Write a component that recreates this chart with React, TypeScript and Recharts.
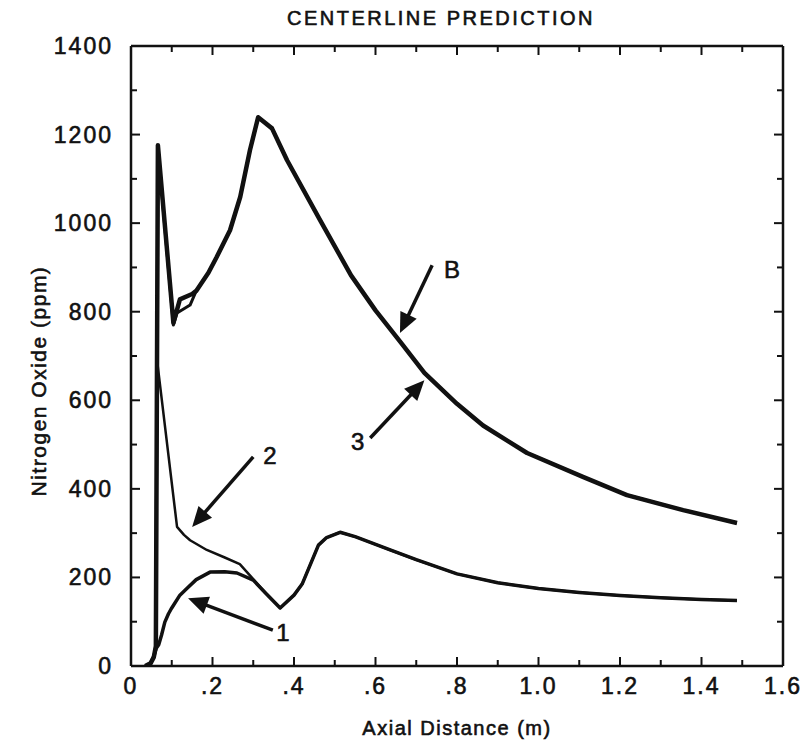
import { LineChart, Line, XAxis, YAxis, ReferenceLine, ReferenceDot } from "recharts";

// curve B (upper, thick)
const distB = [0.035, 0.048, 0.056, 0.061, 0.066, 0.104, 0.12, 0.15, 0.16, 0.19, 0.21, 0.243, 0.268, 0.292, 0.312, 0.346, 0.383, 0.464, 0.54, 0.6, 0.66, 0.72, 0.8, 0.864, 0.972, 1.109, 1.217, 1.355, 1.487];
const noxB = [0, 6, 20, 45, 1176, 775, 828, 840, 847, 888, 923, 984, 1059, 1165, 1239, 1214, 1142, 1007, 882, 803, 733, 662, 592, 543, 481, 427, 386, 352, 323];

// curve 3 (splits from B only near 0.1-0.16)
const dist3 = [0.035, 0.048, 0.056, 0.061, 0.066, 0.104, 0.113, 0.145, 0.16, 0.19, 0.21, 0.243, 0.268, 0.292, 0.312, 0.346, 0.383, 0.464, 0.54, 0.6, 0.66, 0.72, 0.8, 0.864, 0.972, 1.109, 1.217, 1.355, 1.487];
const nox3 = [0, 6, 20, 45, 1170, 770, 797, 815, 847, 888, 923, 984, 1059, 1165, 1239, 1214, 1142, 1007, 882, 803, 733, 662, 592, 543, 481, 427, 386, 352, 323];

// curve 2
const dist2 = [0.035, 0.048, 0.056, 0.061, 0.062, 0.064, 0.113, 0.13, 0.145, 0.186, 0.23, 0.267, 0.3, 0.33, 0.366, 0.4, 0.42, 0.46, 0.48, 0.513, 0.55, 0.636, 0.7, 0.8, 0.9, 1.0, 1.1, 1.2, 1.3, 1.4, 1.487];
const nox2 = [0, 6, 20, 45, 400, 690, 314, 296, 284, 262, 245, 230, 196, 165, 131, 160, 185, 273, 290, 302, 292, 262, 240, 208, 188, 175, 166, 159, 154, 150, 148];

// curve 1
const dist1 = [0.035, 0.048, 0.056, 0.062, 0.068, 0.075, 0.083, 0.092, 0.1, 0.12, 0.137, 0.16, 0.194, 0.23, 0.26, 0.3, 0.33, 0.366, 0.4, 0.42, 0.46, 0.48, 0.513, 0.55, 0.636, 0.7, 0.8, 0.9, 1.0, 1.1, 1.2, 1.3, 1.4, 1.487];
const nox1 = [0, 6, 22, 40, 48, 70, 99, 118, 131, 160, 175, 195, 212, 213, 210, 194, 165, 131, 160, 185, 273, 290, 302, 292, 262, 240, 208, 188, 175, 166, 159, 154, 150, 148];

const xMajorTicks = [0, 0.2, 0.4, 0.6, 0.8, 1.0, 1.2, 1.4, 1.6];
const xTickLabels = ["0", ".2", ".4", ".6", ".8", "1.0", "1.2", "1.4", "1.6"];
const xMinorTicks = [0.1, 0.3, 0.5, 0.7, 0.9, 1.1, 1.3, 1.5];
const yMajorTicks = [0, 200, 400, 600, 800, 1000, 1200, 1400];
const yTickLabels = ["0", "200", "400", "600", "800", "1000", "1200", "1400"];
const yMinorTicks = [100, 300, 500, 700, 900, 1100, 1300];

// annotation arrows: label, tail -> head, label position
const annoLabels = ["B", "3", "2", "1"];
const annoTailX = [0.739, 0.587, 0.3, 0.348];
const annoTailY = [905, 515, 472, 81];
const annoHeadX = [0.66, 0.72, 0.15, 0.14];
const annoHeadY = [752, 645, 314, 153];
const annoLabelX = [0.788, 0.556, 0.341, 0.373];
const annoLabelY = [896, 508, 476, 76];

const toPoints = (xs: number[], ys: number[]) => xs.map((x, i) => ({ x, y: ys[i] }));

const xTicksAll = [...xMajorTicks, ...xMinorTicks].sort((a, b) => a - b);
const yTicksAll = [...yMajorTicks, ...yMinorTicks].sort((a, b) => a - b);

const FONT = "'Liberation Sans', Arial, Helvetica, sans-serif";
const INK = "#111";

const majorIndex = (list: number[], v: number) => list.findIndex((t) => Math.abs(t - v) < 1e-6);

const textStyle = { fontFamily: FONT, fill: INK, stroke: INK, strokeWidth: 0.6 };

const BottomTick = (props: any) => {
  const { x, y, payload } = props;
  const i = majorIndex(xMajorTicks, payload.value);
  return (
    <g>
      <line x1={x} x2={x} y1={y} y2={y - (i >= 0 ? 9 : 6)} stroke={INK} strokeWidth={2} />
      {i >= 0 && (
        <text x={x} y={y + 28} textAnchor="middle" fontSize={23} letterSpacing={2} {...textStyle}>
          {xTickLabels[i]}
        </text>
      )}
    </g>
  );
};

const TopTick = (props: any) => {
  const { x, y, payload } = props;
  const major = majorIndex(xMajorTicks, payload.value) >= 0;
  return <line x1={x} x2={x} y1={y} y2={y + (major ? 9 : 6)} stroke={INK} strokeWidth={2} />;
};

const LeftTick = (props: any) => {
  const { x, y, payload } = props;
  const i = majorIndex(yMajorTicks, payload.value);
  return (
    <g>
      <line x1={x} x2={x + (i >= 0 ? 9 : 6)} y1={y} y2={y} stroke={INK} strokeWidth={2} />
      {i >= 0 && (
        <text x={x - 18} y={y + 8} textAnchor="end" fontSize={23} letterSpacing={2} {...textStyle}>
          {yTickLabels[i]}
        </text>
      )}
    </g>
  );
};

const RightTick = (props: any) => {
  const { x, y, payload } = props;
  const major = majorIndex(yMajorTicks, payload.value) >= 0;
  return <line x1={x} x2={x - (major ? 9 : 6)} y1={y} y2={y} stroke={INK} strokeWidth={2} />;
};

const Arrow = (props: any) => {
  const { x1, y1, x2, y2 } = props;
  if ([x1, y1, x2, y2].some((v) => typeof v !== "number" || isNaN(v))) return null;
  const dx = x2 - x1;
  const dy = y2 - y1;
  const len = Math.hypot(dx, dy) || 1;
  const ux = dx / len;
  const uy = dy / len;
  const headLen = 20;
  const headW = 9;
  const bx = x2 - ux * headLen;
  const by = y2 - uy * headLen;
  return (
    <g>
      <line x1={x1} y1={y1} x2={bx + ux * 2} y2={by + uy * 2} stroke={INK} strokeWidth={3.5} />
      <polygon
        points={`${x2},${y2} ${bx - uy * headW},${by + ux * headW} ${bx + uy * headW},${by - ux * headW}`}
        fill={INK}
      />
    </g>
  );
};

const YLabel = (props: any) => {
  const vb = props.viewBox || { x: 0, y: 46, width: 131, height: 620 };
  const cx = 38;
  const cy = vb.y + vb.height / 2 + 25;
  return (
    <text
      x={cx}
      y={cy}
      transform={`rotate(-90 ${cx} ${cy})`}
      textAnchor="middle"
      dominantBaseline="central"
      fontSize={21}
      letterSpacing={1.5}
      {...textStyle}
    >
      Nitrogen Oxide (ppm)
    </text>
  );
};

export default function App() {
  return (
    <div style={{ position: "absolute", left: 0, top: 0, width: 803, height: 749, background: "#fff" }}>
      <div
        style={{
          position: "absolute",
          left: 0,
          top: 7,
          width: 882,
          textAlign: "center",
          fontFamily: FONT,
          fontSize: 20,
          letterSpacing: 2.5,
          color: INK,
          lineHeight: "22px",
          WebkitTextStroke: "0.6px #111",
        }}
      >
        CENTERLINE PREDICTION
      </div>
      <LineChart width={803} height={749} margin={{ top: 45, right: 19, bottom: 0, left: 0 }}>
        <XAxis
          xAxisId="main"
          dataKey="x"
          type="number"
          domain={[0, 1.6]}
          ticks={xTicksAll}
          interval={0}
          height={83}
          tickSize={0}
          tickMargin={0}
          tickLine={false}
          axisLine={{ stroke: INK, strokeWidth: 2.5 }}
          tick={<BottomTick />}
          allowDataOverflow
          label={{
            value: "Axial Distance (m)",
            position: "insideBottom",
            offset: 14,
            fontSize: 20,
            letterSpacing: 1.5,
            fill: INK,
            stroke: INK,
            strokeWidth: 0.6,
            fontFamily: FONT,
          }}
        />
        <XAxis
          xAxisId="top"
          orientation="top"
          dataKey="x"
          type="number"
          domain={[0, 1.6]}
          ticks={xTicksAll}
          interval={0}
          height={1}
          tickSize={0}
          tickMargin={0}
          tickLine={false}
          axisLine={{ stroke: INK, strokeWidth: 2.5 }}
          tick={<TopTick />}
          allowDataOverflow
        />
        <YAxis
          yAxisId="main"
          type="number"
          domain={[0, 1400]}
          ticks={yTicksAll}
          interval={0}
          width={131}
          tickSize={0}
          tickMargin={0}
          tickLine={false}
          axisLine={{ stroke: INK, strokeWidth: 2.5 }}
          tick={<LeftTick />}
          allowDataOverflow
          label={<YLabel />}
        />
        <YAxis
          yAxisId="right"
          orientation="right"
          type="number"
          domain={[0, 1400]}
          ticks={yTicksAll}
          interval={0}
          width={1}
          tickSize={0}
          tickMargin={0}
          tickLine={false}
          axisLine={{ stroke: INK, strokeWidth: 2.5 }}
          tick={<RightTick />}
          allowDataOverflow
        />

        <Line xAxisId="main" yAxisId="main" data={toPoints(dist1, nox1)} dataKey="y" type="linear" stroke={INK} strokeWidth={3.5} dot={false} strokeLinejoin="round" isAnimationActive={false} />
        <Line xAxisId="main" yAxisId="main" data={toPoints(dist2, nox2)} dataKey="y" type="linear" stroke={INK} strokeWidth={2.5} dot={false} strokeLinejoin="round" isAnimationActive={false} />
        <Line xAxisId="main" yAxisId="main" data={toPoints(dist3, nox3)} dataKey="y" type="linear" stroke={INK} strokeWidth={3} dot={false} strokeLinejoin="round" isAnimationActive={false} />
        <Line xAxisId="main" yAxisId="main" data={toPoints(distB, noxB)} dataKey="y" type="linear" stroke={INK} strokeWidth={4.5} dot={false} strokeLinejoin="round" isAnimationActive={false} />

        {annoLabels.map((lab, i) => (
          <ReferenceLine
            key={`arrow-${lab}`}
            xAxisId="main"
            yAxisId="main"
            segment={[
              { x: annoTailX[i], y: annoTailY[i] },
              { x: annoHeadX[i], y: annoHeadY[i] },
            ]}
            shape={<Arrow />}
          />
        ))}
        {annoLabels.map((lab, i) => (
          <ReferenceDot
            key={`label-${lab}`}
            xAxisId="main"
            yAxisId="main"
            x={annoLabelX[i]}
            y={annoLabelY[i]}
            r={0}
            stroke="none"
            fill="none"
            label={{ value: lab, position: "center", fontSize: 24, fill: INK, stroke: INK, strokeWidth: 0.6, fontFamily: FONT }}
          />
        ))}
      </LineChart>
    </div>
  );
}
